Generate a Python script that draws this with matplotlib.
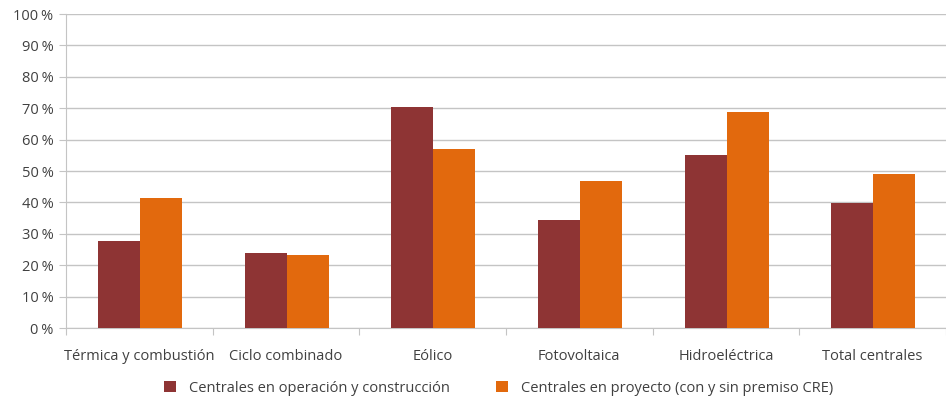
import numpy as np
import matplotlib
matplotlib.use('Agg')
import matplotlib.pyplot as plt
from matplotlib.ticker import FuncFormatter

plt.rcParams['font.family'] = ['Open Sans', 'DejaVu Sans']

# datos
categorias = ['Térmica y combustión', 'Ciclo combinado', 'Eólico',
              'Fotovoltaica', 'Hidroeléctrica', 'Total centrales']
operacion = [27.7, 23.9, 70.4, 34.4, 55.1, 39.8]
proyecto = [41.5, 23.3, 57.0, 46.9, 68.8, 49.1]
nombres = ['Centrales en operación y construcción',
           'Centrales en proyecto (con y sin premiso CRE)']

c_oper = '#8E3434'
c_proy = '#E2690D'
gris = '#C4C4C4'
texto = '#404040'

fig = plt.figure(figsize=(9.46, 3.97), dpi=100)
ax = fig.add_axes([0.0698, 0.1738, 0.9302, 0.7909])

x = np.arange(len(categorias))
w = 0.286
ax.bar(x - w / 2 + 0.005, operacion, w, color=c_oper, label=nombres[0], zorder=3)
ax.bar(x + w / 2 + 0.005, proyecto, w, color=c_proy, label=nombres[1], zorder=3)

ax.set_xlim(-0.5, len(categorias) - 0.5)
ax.set_ylim(0, 100)
ax.set_yticks(np.arange(0, 101, 10))
ax.yaxis.set_major_formatter(FuncFormatter(lambda v, p: f'{int(v)}\u202f%'))
ax.yaxis.grid(True, color=gris, linewidth=1, zorder=0)

# ticks del eje x entre categorias
ax.set_xticks(np.arange(-0.5, len(categorias), 1))
ax.set_xticklabels([])
ax.set_xticks(x, minor=True)
ax.set_xticklabels(categorias, minor=True)
ax.tick_params(axis='x', which='minor', length=0, pad=15, labelsize=10.5, labelcolor=texto)
ax.tick_params(axis='x', which='major', length=5, color=gris)
ax.tick_params(axis='y', length=5, color=gris, labelsize=10.5, labelcolor=texto, pad=4)

for s in ['top', 'right']:
    ax.spines[s].set_visible(False)
ax.spines['left'].set_color(gris)
ax.spines['bottom'].set_color(gris)

fig.legend(loc='lower center', bbox_to_anchor=(0.527, -0.03), ncol=2, frameon=False,
           fontsize=10.5, handlelength=0.8, handleheight=0.8, columnspacing=3.2,
           handletextpad=0.9, labelcolor=texto)

fig.savefig('out.png', dpi=100)
